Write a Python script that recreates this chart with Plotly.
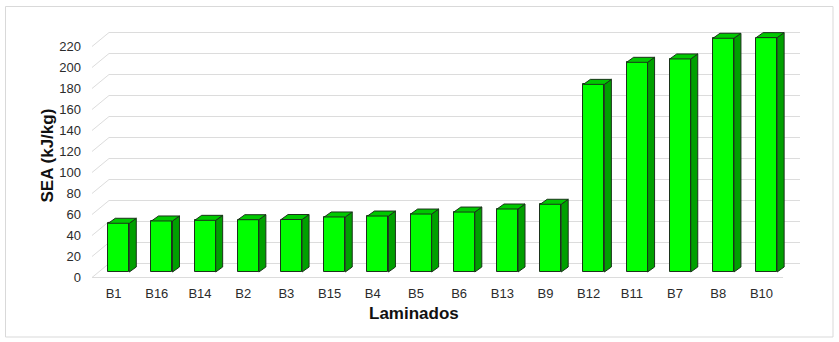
import plotly.graph_objects as go

# ---------------- data ----------------
categories = ["B1", "B16", "B14", "B2", "B3", "B15", "B4", "B5", "B6",
              "B13", "B9", "B12", "B11", "B7", "B8", "B10"]
sea_values = [46.4, 48.6, 49.2, 49.8, 50.0, 52.4, 53.3, 55.2, 57.1,
              60.0, 64.5, 178.7, 199.7, 202.9, 222.6, 223.2]
y_ticks = [0, 20, 40, 60, 80, 100, 120, 140, 160, 180, 200, 220]

# ---------------- geometry (pixels) ----------------
W, H = 839, 342
PL, PR, PT, PB = 92, 800, 20, 280           # plot area
Y0_PX = 277.5                               # front-plane zero
PPU = 1.05                                  # px per unit
PPC = 43.19                                 # px per category
WALL_DX, WALL_DY = 17, 14                   # depth of back wall (px)
BAR_SX, BAR_SY = 5.2, 5.5                   # bar front plane offset (px)
BAR_DX, BAR_DY = 7, 5                       # bar depth (px)
BAR_W = 21                                  # bar width (px)

xr = [-0.5, -0.5 + (PR - PL) / PPC]
yr = [(Y0_PX - PB) / PPU, (Y0_PX - PT) / PPU]

wdx, wdy = WALL_DX / PPC, WALL_DY / PPU
sx, sy = BAR_SX / PPC, BAR_SY / PPU
bdx, bdy = BAR_DX / PPC, BAR_DY / PPU
bw = BAR_W / PPC
n = len(categories)


def px2paper_x(p):
    return (p - PL) / (PR - PL)


def px2paper_y(p):
    return (PB - p) / (PB - PT)


fig = go.Figure()

# gridlines (floor diagonal + back wall) as shapes below traces
grid_line = dict(color="#dcdcdc", width=1)
for v in y_ticks:
    fig.add_shape(type="line", xref="x", yref="y", layer="below",
                  x0=-0.5, y0=v, x1=-0.5 + wdx, y1=v + wdy, line=grid_line)
    fig.add_shape(type="line", xref="x", yref="y", layer="below",
                  x0=-0.5 + wdx, y0=v + wdy, x1=n - 0.5 + wdx, y1=v + wdy,
                  line=grid_line)
fig.add_shape(type="line", xref="x", yref="y", layer="below",
              x0=-0.5, y0=0, x1=n - 0.5, y1=0, line=grid_line)

# front faces
xpos = [i + sx for i in range(n)]
fig.add_trace(go.Bar(x=xpos, y=sea_values, base=[sy] * n, width=bw,
                     marker=dict(color="#00ff00",
                                 line=dict(color="#1a331a", width=1)),
                     showlegend=False, hoverinfo="skip"))

# side and top faces
side_x, side_y, top_x, top_y = [], [], [], []
for i, v in enumerate(sea_values):
    xl = i + sx - bw / 2
    xrr = i + sx + bw / 2
    yb, yt = sy, sy + v
    side_x += [xrr, xrr + bdx, xrr + bdx, xrr, xrr, None]
    side_y += [yb, yb + bdy, yt + bdy, yt, yb, None]
    top_x += [xl, xl + bdx, xrr + bdx, xrr, xl, None]
    top_y += [yt, yt + bdy, yt + bdy, yt, yt, None]

fig.add_trace(go.Scatter(x=side_x, y=side_y, mode="lines", fill="toself",
                         fillcolor="#00a000",
                         line=dict(color="#1a331a", width=1),
                         hoverinfo="skip", showlegend=False))
fig.add_trace(go.Scatter(x=top_x, y=top_y, mode="lines", fill="toself",
                         fillcolor="#00c800",
                         line=dict(color="#1a331a", width=1),
                         hoverinfo="skip", showlegend=False))

# outer border
fig.add_shape(type="rect", xref="paper", yref="paper",
              x0=px2paper_x(5.5), x1=px2paper_x(833),
              y0=px2paper_y(337), y1=px2paper_y(6.5),
              line=dict(color="#d9d9d9", width=1), layer="below")

# axis titles
fig.add_annotation(text="<b>Laminados</b>", xref="paper", yref="paper",
                   x=px2paper_x(414), y=px2paper_y(313),
                   xanchor="center", yanchor="middle", showarrow=False,
                   font=dict(size=17, color="#111111"))
fig.add_annotation(text="<b>SEA (kJ/kg)</b>", xref="paper", yref="paper",
                   x=px2paper_x(47), y=px2paper_y(155.5), textangle=-90,
                   xanchor="center", yanchor="middle", showarrow=False,
                   font=dict(size=17, color="#111111"))

font_fam = "Liberation Sans, Arial, sans-serif"
fig.update_layout(
    width=W, height=H, autosize=False,
    margin=dict(l=PL, r=W - PR, t=PT, b=H - PB, pad=0),
    paper_bgcolor="white", plot_bgcolor="white",
    font=dict(family=font_fam, size=13, color="#2b2b2b"),
    bargap=0,
    xaxis=dict(range=xr, tickmode="array",
               tickvals=list(range(n)), ticktext=categories,
               showgrid=False, zeroline=False, showline=False,
               ticks="", ticklabelstandoff=4,
               tickfont=dict(size=13, color="#2b2b2b")),
    yaxis=dict(range=yr, tickmode="array", tickvals=y_ticks,
               showgrid=False, zeroline=False, showline=False,
               ticks="", ticklabelstandoff=10,
               tickfont=dict(size=13, color="#2b2b2b")),
)

fig.write_html("out.html",
               config={"displayModeBar": False},
               post_script="document.body.style.margin='0';")
